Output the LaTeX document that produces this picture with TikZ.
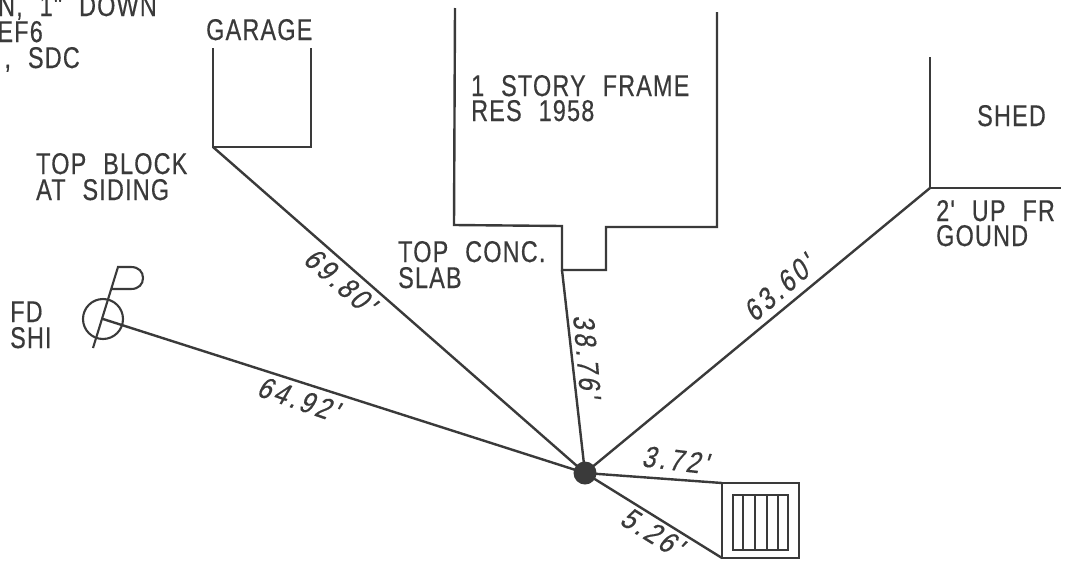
\documentclass[tikz,border=0pt]{standalone}
\usepackage{fontspec}
\setmainfont{Liberation Sans}
\newfontfamily\planfont[FakeStretch=0.78,LetterSpace=4,WordSpace=2.2,FakeBold=0.4]{Liberation Sans}
\newfontfamily\dimfont[FakeStretch=0.82,FakeSlant=0.2,LetterSpace=11,FakeBold=0.4]{Liberation Sans}
\definecolor{ink}{HTML}{3A3A3A}
\tikzset{
  wall/.style={draw=ink,line width=2.4pt,line join=miter},
  thin part/.style={draw=ink,line width=2.1pt},
  lab/.style={inner sep=0pt,text=ink,font=\planfont\fontsize{30}{30}\selectfont,anchor=base west},
  labr/.style={lab,anchor=base east},
  dimlab/.style={inner sep=0pt,text=ink,font=\dimfont\fontsize{30}{30}\selectfont,anchor=center},
}
\begin{document}
\begin{tikzpicture}[x=1pt,y=-1pt]
\useasboundingbox (0,0) rectangle (1065,560);
\clip (0,0) rectangle (1065,560);
\fill[white] (0,0) rectangle (1065,560);
% reference points
\coordinate (garA) at (213,147);
\coordinate (slab) at (562,270);
\coordinate (shedC) at (930,188);
\coordinate (fd) at (103,319);
\coordinate (grA) at (722,483);
\coordinate (grB) at (722,558);
\node[circle,fill=ink,draw=none,minimum size=23pt,inner sep=0pt] (hub) at (585,473) {};
% buildings
\draw[wall] (213,48) -- (garA) -- (311,147) -- (311,48);
\draw[wall] (455,8) -- (454,225) -- (562,226) -- (slab) -- (606,270) -- (606,227) -- (717,227) -- (717,12);
\draw[wall] (930,57) -- (shedC) -- (1061,188);
% connectors
\draw[wall] (hub.center) -- (garA);
\draw[wall] (hub.center) -- (slab);
\draw[wall] (hub.center) -- (shedC);
\draw[wall] (hub.center) -- (fd);
\draw[wall] (hub.center) -- (grA);
\draw[wall] (hub.center) -- (grB);
% FD symbol
\draw[thin part] (fd) circle (20);
\draw[thin part] (93,348) -- (118,267) -- (131,267)
  .. controls (139,267) and (143,272) .. (143,278)
  .. controls (143,284) and (139,289) .. (131,289) -- (112,289);
% grate
\draw[wall] (grA) -- (799,483) -- (799,558) -- (grB) -- cycle;
\draw[wall] (733,495) rectangle (788,550);
\foreach \x in {743,755,767,778} \draw[thin part] (\x,495) -- (\x,550);
% text
\node[labr] (t1) at (157,16) {N, 1" DOWN};
\node[labr] (t2) at (43,42) {EF6};
\node[labr] (t3) at (80,68) {, SDC};
\node[lab] (t4) at (206,40) {GARAGE};
\node[lab] (t5) at (36,174) {TOP BLOCK};
\node[lab] (t6) at (36,200) {AT SIDING};
\node[lab] (t7) at (471,96) {1 STORY FRAME};
\node[lab] (t8) at (471,121) {RES 1958};
\node[lab] (t9) at (398,262) {TOP CONC.};
\node[lab] (t10) at (398,288) {SLAB};
\node[lab] (t11) at (10,322) {FD};
\node[lab] (t12) at (10,348) {SHI};
\node[lab] (t13) at (977,126) {SHED};
\node[lab] (t14) at (936,221) {2' UP FR};
\node[lab] (t15) at (936,246) {GOUND};
% dimensions
\node[dimlab,rotate=-41] (d1) at (340,281) {69.80'};
\node[dimlab,rotate=-19] (d2) at (298,399) {64.92'};
\node[dimlab,rotate=-85] (d3) at (587,356) {38.76'};
\node[dimlab,rotate=41] (d4) at (779,288) {63.60'};
\node[dimlab,rotate=-7] (d5) at (675,460) {3.72'};
\node[dimlab,rotate=-32] (d6) at (652,532) {5.26'};
\end{tikzpicture}
\end{document}
